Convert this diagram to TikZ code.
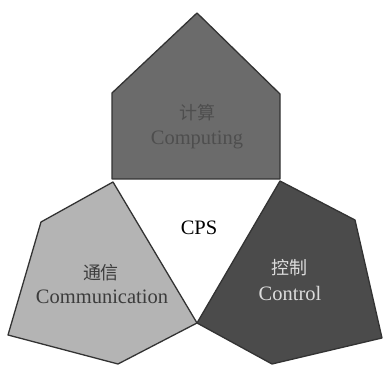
\documentclass[tikz,border=0pt]{standalone}
\usepackage{fontspec}
\setmainfont{Liberation Serif}
\newfontfamily\cjk{Noto Sans CJK SC}
\begin{document}
\begin{tikzpicture}[x=1pt,y=-1pt,
  facet/.style={draw=black!80,line width=1.3pt,line join=round},
  label/.style={font=\fontsize{20.5}{22}\selectfont,inner sep=0pt,anchor=center},
  cjklabel/.style={font=\cjk\fontsize{18}{20}\selectfont,inner sep=0pt,anchor=center}]
\definecolor{computefill}{HTML}{6B6B6B}
\definecolor{computetext}{HTML}{4E4E4E}
\definecolor{commfill}{HTML}{B4B4B4}
\definecolor{commtext}{HTML}{3C3C3C}
\definecolor{ctrlfill}{HTML}{4B4B4B}
\definecolor{ctrltext}{HTML}{DCDCDC}
\useasboundingbox (0,0) rectangle (384,366);
\fill[white] (0,0) rectangle (384,366);

% computing: house-shaped pentagon
\draw[facet,fill=computefill] (197,13) -- (280,94) -- (280,179) -- (112,179) -- (112,93) -- cycle;
% communication
\draw[facet,fill=commfill] (113,182) -- (197,323) -- (118,364) -- (8,335) -- (41,222) -- cycle;
% control
\draw[facet,fill=ctrlfill] (280,181) -- (355,220) -- (382,338) -- (272,364) -- (197,323) -- cycle;

\node[label] (cps) at (199,228) {CPS};
\node[cjklabel,text=computetext] (jisuan) at (197,113) {计算};
\node[label,text=computetext] (computing) at (197,140) {Computing};
\node[cjklabel,text=commtext] (tongxin) at (101,273) {通信};
\node[label,text=commtext] (communication) at (102,297) {Communication};
\node[cjklabel,text=ctrltext] (kongzhi) at (290,268) {控制};
\node[label,text=ctrltext] (control) at (290,293) {Control};
\end{tikzpicture}
\end{document}
